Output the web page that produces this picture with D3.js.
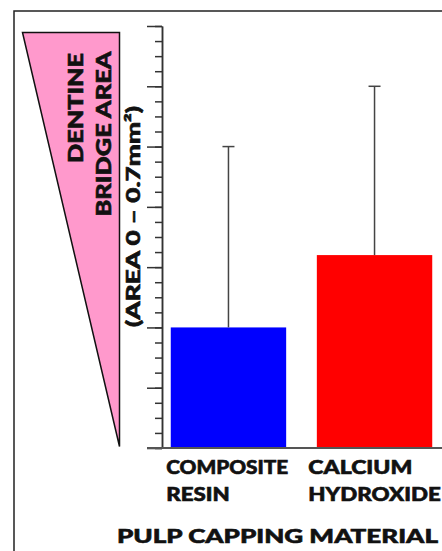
<!DOCTYPE html>
<html>
<head>
<meta charset="utf-8">
<script src="https://cdn.jsdelivr.net/npm/d3@7"></script>
<style>
  body { margin: 0; background: #fff; }
  text { font-family: Lato, "Open Sans", sans-serif; font-weight: 900; fill: #111; stroke: #111; stroke-width: 0.6; }
</style>
</head>
<body>
<div id="chart"></div>
<script>
// data
var materials = ["COMPOSITE RESIN", "CALCIUM HYDROXIDE"];
var labelLines = [["COMPOSITE", "RESIN"], ["CALCIUM", "HYDROXIDE"]];
var means = [0.2, 0.32];
var upper = [0.5, 0.6];        // top of error bar
var barColors = ["#0000ff", "#ff0000"];
var majorTicks = [0, 0.1, 0.2, 0.3, 0.4, 0.5, 0.6, 0.7];
var minorTicks = d3.range(0, 0.7001, 0.025);
var yTitle = ["DENTINE", "BRIDGE AREA", "(AREA 0 \u2013 0.7mm\u00b2)"];
var xTitle = "PULP CAPPING MATERIAL";

var width = 442, height = 551;
var margin = {top: 26, left: 162, right: 1, bottom: 103};

var svg = d3.select("#chart").append("svg")
	.attr("width", width)
	.attr("height", height);

// frame (left + top only)
svg.append("path")
	.attr("d", "M14," + height + "V11H" + width)
	.attr("fill", "none")
	.attr("stroke", "#222")
	.attr("stroke-width", 1.5);

var y = d3.scaleLinear()
	.domain([0, 0.7])
	.range([height - margin.bottom, margin.top]);

var x = d3.scaleBand()
	.domain(materials)
	.range([margin.left, width - margin.right])
	.paddingInner(0.21)
	.paddingOuter(0.06);

// pink wedge behind the y title
var wedge = {left: 22.5, right: 119.5, top: 32.5, bottom: 446.5};
svg.append("path")
	.attr("d", "M" + wedge.left + "," + wedge.top + "H" + wedge.right + "V" + wedge.bottom + "Z")
	.attr("fill", "#ff99cc")
	.attr("stroke", "#111")
	.attr("stroke-width", 1.5)
	.attr("stroke-linejoin", "miter");

// rotated y title lines
var titlePos = [{bx: 83, cy: 108, len: 110, size: 20.5},
	{bx: 110.5, cy: 134, len: 165, size: 20.5},
	{bx: 139.5, cy: 216.5, len: 221, size: 18.8}];
yTitle.forEach(function(t, i) {
	var p = titlePos[i];
	svg.append("text")
		.attr("transform", "translate(" + p.bx + "," + p.cy + ") rotate(-90)")
		.attr("text-anchor", "middle")
		.attr("font-size", p.size)
		.attr("textLength", p.len)
		.attr("lengthAdjust", "spacingAndGlyphs")
		.text(t);
});

// minor ticks
svg.append("g")
	.attr("class", "minor")
	.attr("transform", "translate(" + margin.left + ",0)")
	.call(d3.axisLeft(y).tickValues(minorTicks).tickSize(7).tickSizeOuter(0).tickFormat(""));

// major ticks
svg.append("g")
	.attr("class", "major")
	.attr("transform", "translate(" + margin.left + ",0)")
	.call(d3.axisLeft(y).tickValues(majorTicks).tickSize(15).tickSizeOuter(0).tickFormat(""));

svg.selectAll(".minor line, .major line, .major path, .minor path")
	.attr("stroke", "#333")
	.attr("stroke-width", 1.5);

// bars
svg.selectAll("rect.bar")
	.data(means)
	.enter().append("rect")
	.attr("class", "bar")
	.attr("x", function(d, i) { return x(materials[i]); })
	.attr("width", x.bandwidth())
	.attr("y", function(d) { return y(d); })
	.attr("height", function(d) { return y(0) - y(d); })
	.attr("fill", function(d, i) { return barColors[i]; });

// error bars (upper only)
var eb = svg.selectAll("g.err")
	.data(upper)
	.enter().append("g")
	.attr("class", "err")
	.attr("stroke", "#444")
	.attr("stroke-width", 1.5);
eb.append("line")
	.attr("x1", function(d, i) { return x(materials[i]) + x.bandwidth() / 2; })
	.attr("x2", function(d, i) { return x(materials[i]) + x.bandwidth() / 2; })
	.attr("y1", function(d, i) { return y(means[i]); })
	.attr("y2", function(d) { return y(d); });
eb.append("line")
	.attr("x1", function(d, i) { return x(materials[i]) + x.bandwidth() / 2 - 6; })
	.attr("x2", function(d, i) { return x(materials[i]) + x.bandwidth() / 2 + 6; })
	.attr("y1", function(d) { return y(d); })
	.attr("y2", function(d) { return y(d); });

// baseline
svg.append("line")
	.attr("x1", margin.left - 15)
	.attr("x2", width)
	.attr("y1", y(0))
	.attr("y2", y(0))
	.attr("stroke", "#555")
	.attr("stroke-width", 2);

// category labels
var labelShift = [-4.5, -8.5];
var lineLens = [[122, 63.5], [104, 132.5]];
labelLines.forEach(function(lines, i) {
	lines.forEach(function(t, j) {
		svg.append("text")
			.attr("x", x(materials[i]) + labelShift[i])
			.attr("y", y(0) + 26 + j * 26.7)
			.attr("font-size", 18.6)
			.attr("textLength", lineLens[i][j])
			.attr("lengthAdjust", "spacingAndGlyphs")
			.text(t);
	});
});

// x title
svg.append("text")
	.attr("x", 117)
	.attr("y", 543.3)
	.attr("font-size", 19.5)
	.attr("textLength", 321)
	.attr("lengthAdjust", "spacingAndGlyphs")
	.text(xTitle);
</script>
</body>
</html>
